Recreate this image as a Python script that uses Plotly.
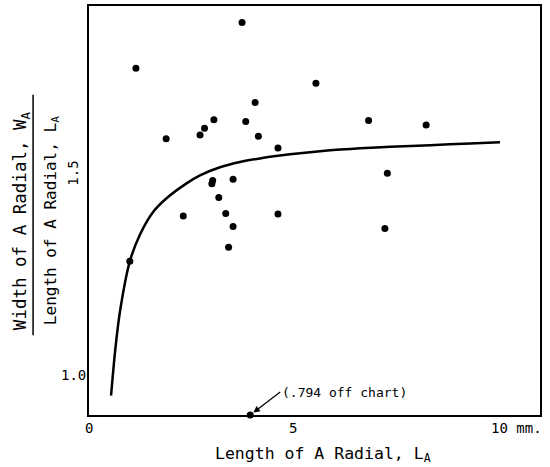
import plotly.graph_objects as go

# ---- data ----
pt_x = [1.15, 3.75, 1.89, 2.72, 2.83, 3.06, 3.84, 4.07, 4.15, 5.56, 6.85, 8.26, 4.63,
        3.03, 3.01, 3.53, 3.18, 2.31, 3.35, 3.53, 3.42, 4.63, 7.31, 7.25, 1.00]
pt_y = [1.762, 1.876, 1.587, 1.596, 1.613, 1.634, 1.630, 1.677, 1.593, 1.725, 1.632, 1.621, 1.564,
        1.483, 1.475, 1.486, 1.441, 1.395, 1.401, 1.369, 1.317, 1.400, 1.501, 1.364, 1.282]

off_x = [3.95]
off_value = [0.794]

curve_x = [0.54, 0.64, 0.76, 1.00, 1.25, 1.58, 1.90, 2.39, 2.72, 3.21, 3.70, 4.19, 4.68,
           5.17, 5.66, 6.15, 6.64, 7.38, 8.36, 9.34, 10.07]
curve_y = [0.948, 1.059, 1.158, 1.282, 1.349, 1.406, 1.439, 1.476, 1.496, 1.516, 1.529, 1.538, 1.545,
           1.551, 1.556, 1.560, 1.563, 1.567, 1.571, 1.575, 1.578]

x_ticks = [0, 5, 10]
x_tick_text = ["0", "5", "10 mm."]
y_ticks = [1.0, 1.5]
y_tick_text = ["1.0", "1.5"]

X_RANGE = [0, 11.05]
Y_RANGE = [0.9, 1.917]

FONT = "DejaVu Sans Mono"

fig = go.Figure()
fig.add_trace(go.Scatter(x=curve_x, y=curve_y, mode="lines",
                         line=dict(color="black", width=2.5, shape="spline", smoothing=0.8),
                         hoverinfo="skip"))
fig.add_trace(go.Scatter(x=pt_x, y=pt_y, mode="markers",
                         marker=dict(color="black", size=7)))
# off-chart point drawn at the bottom edge of the chart
fig.add_trace(go.Scatter(x=off_x, y=[max(v, Y_RANGE[0]) for v in off_value], mode="markers",
                         marker=dict(color="black", size=7), cliponaxis=False))

ann = []
for v, t in zip(x_ticks, x_tick_text):
    a = dict(x=v, y=0, xref="x", yref="paper", text=t, showarrow=False,
             yshift=-13, yanchor="middle", font=dict(family=FONT, size=14, color="black"))
    if t.endswith("mm."):
        a.update(xanchor="left", xshift=-8)
    else:
        a.update(xanchor="center")
    ann.append(a)
for v, t in zip(y_ticks, y_tick_text):
    ann.append(dict(x=0, y=v, xref="paper", yref="y", text=t, showarrow=False,
                    xshift=-16, xanchor="center", yanchor="middle",
                    textangle=-90 if v == 1.5 else 0,
                    font=dict(family=FONT, size=14, color="black")))
# axis titles
ann.append(dict(x=0.519, y=0, xref="paper", yref="paper", yshift=-39,
                text="Length of A Radial, L<sub>A</sub>", showarrow=False,
                xanchor="center", yanchor="middle", font=dict(family=FONT, size=16.5, color="black")))
ann.append(dict(x=0, y=0.474, xref="paper", yref="paper", xshift=-68,
                text="Width of A Radial, W<sub>A</sub>", showarrow=False, textangle=-90,
                xanchor="center", yanchor="middle", font=dict(family=FONT, size=17.5, color="black")))
ann.append(dict(x=0, y=0.474, xref="paper", yref="paper", xshift=-38,
                text="Length of A Radial, L<sub>A</sub>", showarrow=False, textangle=-90,
                xanchor="center", yanchor="middle", font=dict(family=FONT, size=16, color="black")))
# off-chart note
ann.append(dict(x=off_x[0], y=Y_RANGE[0], xref="x", yref="y",
                text="(.%s off chart)" % str(off_value[0]).split(".")[1],
                showarrow=True, arrowhead=2, arrowsize=1, arrowwidth=1.3, arrowcolor="black",
                standoff=4, ax=30, ay=-23, xanchor="left", yanchor="middle",
                font=dict(family=FONT, size=13, color="black")))

fig.update_layout(
    width=550, height=467,
    margin=dict(l=89, r=10, t=4, b=52),
    paper_bgcolor="white", plot_bgcolor="white",
    showlegend=False,
    annotations=ann,
    shapes=[dict(type="line", xref="paper", yref="paper", x0=-0.124, x1=-0.124,
                 y0=0.195, y1=0.783, line=dict(color="black", width=1.5))],
    xaxis=dict(range=X_RANGE, showgrid=False, zeroline=False, showticklabels=False,
               ticks="", showline=True, mirror=True, linecolor="black", linewidth=2),
    yaxis=dict(range=Y_RANGE, showgrid=False, zeroline=False, showticklabels=False,
               ticks="", showline=True, mirror=True, linecolor="black", linewidth=2),
)
fig.write_html("out.html")
